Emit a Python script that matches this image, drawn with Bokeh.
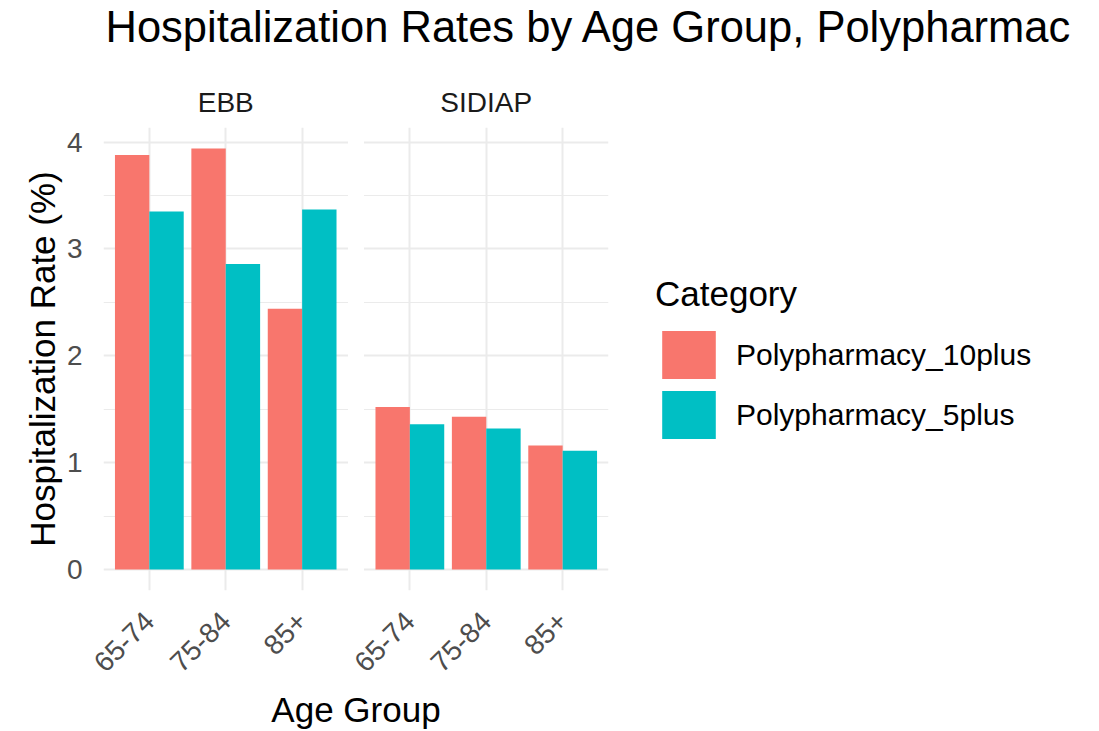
from math import pi
from bokeh.plotting import figure
from bokeh.models import (ColumnDataSource, FactorRange, Range1d, FixedTicker,
                          Legend, LegendItem, CategoricalAxis)
from bokeh.transform import dodge
from bokeh.embed import file_html
from bokeh.resources import INLINE

# ---------------- data ----------------
age_groups = ["65-74", "75-84", "85+"]
facets = ["EBB", "SIDIAP"]
categories = ["Polypharmacy_10plus", "Polypharmacy_5plus"]
ebb_10plus = [3.88, 3.94, 2.44]
ebb_5plus = [3.35, 2.86, 3.37]
sidiap_10plus = [1.52, 1.43, 1.16]
sidiap_5plus = [1.36, 1.32, 1.11]
y_ticks = [0, 1, 2, 3, 4]
y_minor = [0.5, 1.5, 2.5, 3.5]

title_text = "Hospitalization Rates by Age Group, Polypharmac"
x_title = "Age Group"
y_title = "Hospitalization Rate (%)"
legend_title = "Category"

# ---------------- style ----------------
FONT = "Liberation Sans"
C10 = "#F8766D"
C5 = "#00BFC4"
GRID = "#EBEBEB"
TICK_COL = "#4D4D4D"

factors = [(f, a) for f in facets for a in age_groups]
src = ColumnDataSource(dict(x=factors,
                            p10=ebb_10plus + sidiap_10plus,
                            p5=ebb_5plus + sidiap_5plus))

ymax = max(ebb_10plus + ebb_5plus + sidiap_10plus + sidiap_5plus)
y_lo, y_hi = -0.05 * ymax, 1.05 * ymax

xr = FactorRange(factors=factors, range_padding=0.1, range_padding_units="absolute",
                 group_padding=0.41)

p = figure(frame_width=505, frame_height=463, x_range=xr, y_range=Range1d(y_lo, y_hi),
           title=title_text, output_backend="svg", toolbar_location=None,
           min_border_left=103, min_border_right=0,
           min_border_top=0, min_border_bottom=0)
p.outline_line_color = None
p.background_fill_color = "white"
p.border_fill_color = "white"

# main title
p.title.text_font = FONT
p.title.text_font_size = "43.5px"
p.title.text_font_style = "normal"
p.title.text_color = "black"
p.title.align = "left"
p.title.offset = 2
p.title.standoff = 0

# gap between facet panels (background between the two panels)
gap = ColumnDataSource(dict(l=[(facets[0], age_groups[-1])], r=[(facets[1], age_groups[0])]))
p.quad(left=dodge("l", 0.6, range=xr), right=dodge("r", -0.6, range=xr),
       bottom=y_lo, top=y_hi, source=gap, fill_color="white", line_color=None)

# bars
r10 = p.vbar(x=dodge("x", -0.225, range=xr), top="p10", width=0.45, source=src,
             fill_color=C10, line_color=None)
r5 = p.vbar(x=dodge("x", 0.225, range=xr), top="p5", width=0.45, source=src,
            fill_color=C5, line_color=None)

# grids
p.xgrid.grid_line_color = GRID
p.xgrid.grid_line_width = 2
p.ygrid.ticker = FixedTicker(ticks=y_ticks, minor_ticks=y_minor)
p.ygrid.grid_line_color = GRID
p.ygrid.grid_line_width = 2
p.ygrid.minor_grid_line_color = GRID
p.ygrid.minor_grid_line_width = 1.2

# bottom axis: age groups
xa = p.xaxis[0]
xa.axis_line_color = None
xa.major_tick_line_color = None
xa.minor_tick_line_color = None
xa.separator_line_color = None
xa.major_label_orientation = pi / 4
xa.major_label_text_font = FONT
xa.major_label_text_font_size = "28px"
xa.major_label_text_color = TICK_COL
xa.major_label_standoff = 20
xa.group_text_font_size = "0px"
xa.group_text_color = None
xa.axis_label = x_title
xa.axis_label_text_font = FONT
xa.axis_label_text_font_size = "35px"
xa.axis_label_text_font_style = "normal"
xa.axis_label_text_color = "black"
xa.axis_label_standoff = 6

# top axis: facet strips (blank axis label keeps room below the main title)
strip = CategoricalAxis()
strip.axis_line_color = None
strip.major_tick_line_color = None
strip.minor_tick_line_color = None
strip.separator_line_color = None
strip.major_label_text_font_size = "0px"
strip.major_label_text_color = None
strip.major_label_standoff = 4
strip.group_text_font = FONT
strip.group_text_font_size = "28px"
strip.group_text_font_style = "normal"
strip.group_text_color = "#1A1A1A"
strip.axis_label = " "
strip.axis_label_text_font = FONT
strip.axis_label_text_font_size = "25px"
strip.axis_label_standoff = 2
p.add_layout(strip, "above")

# y axis
ya = p.yaxis[0]
ya.ticker = FixedTicker(ticks=y_ticks, minor_ticks=y_minor)
ya.axis_line_color = None
ya.major_tick_line_color = None
ya.minor_tick_line_color = None
ya.major_label_text_font = FONT
ya.major_label_text_font_size = "28px"
ya.major_label_text_color = TICK_COL
ya.major_label_standoff = 15
ya.axis_label = y_title
ya.axis_label_text_font = FONT
ya.axis_label_text_font_size = "35px"
ya.axis_label_text_font_style = "normal"
ya.axis_label_text_color = "black"
ya.axis_label_standoff = 2

# legend (right of the panels)
legend = Legend(items=[LegendItem(label=categories[0], renderers=[r10]),
                       LegendItem(label=categories[1], renderers=[r5])],
                title=legend_title, location="center_left")
legend.title_text_font = FONT
legend.title_text_font_size = "35px"
legend.title_text_font_style = "normal"
legend.title_text_color = "black"
legend.title_standoff = 11
legend.label_text_font = FONT
legend.label_text_font_size = "30px"
legend.label_text_color = "black"
legend.glyph_width = 67
legend.glyph_height = 60
legend.label_height = 60
legend.label_standoff = 14
legend.spacing = 0
legend.padding = 0
legend.margin = 47
legend.border_line_color = None
legend.background_fill_alpha = 0
p.add_layout(legend, "right")

open("out.html", "w").write(file_html(p, INLINE))
